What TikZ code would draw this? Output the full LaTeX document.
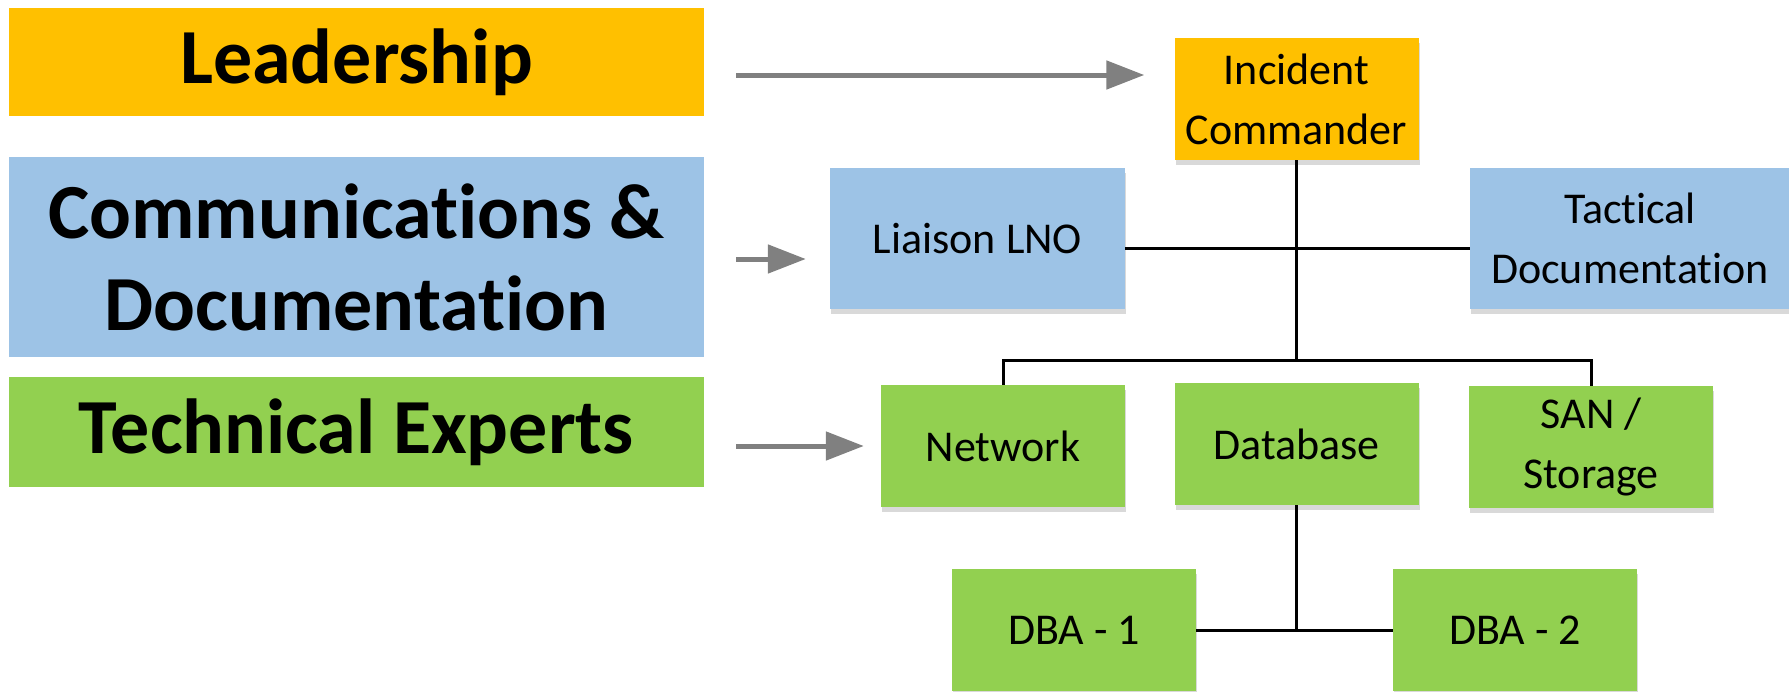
\documentclass[tikz,border=0pt]{standalone}
\usepackage{fontspec}
\setmainfont{Carlito}[RawFeature={-liga}]
\usepackage{tikz}
\usetikzlibrary{arrows.meta,shadows,positioning}
\definecolor{leadorange}{HTML}{FFC000}
\definecolor{commblue}{HTML}{9DC3E6}
\definecolor{techgreen}{HTML}{92D050}
\definecolor{arrgray}{HTML}{808080}

\begin{document}
\begin{tikzpicture}[x=1pt,y=-1pt,
  band/.style={rectangle,minimum width=695pt,align=center,inner sep=0pt,font=\fontsize{78}{92}\selectfont\bfseries},
  k/.style={rectangle,minimum width=244pt,minimum height=122pt,align=center,inner sep=0pt,font=\fontsize{44}{60}\selectfont,drop shadow={shadow xshift=1pt,shadow yshift=-5pt,opacity=.3}},
  arr/.style={draw=arrgray,line width=5pt,-{Triangle[length=38pt,width=28pt]}},
  ln/.style={draw=black,line width=3pt}]
  \useasboundingbox (0,0) rectangle (1789,691);

  \node[band,fill=leadorange,minimum height=108pt] (leadership) at (356.5,62) {Leadership};
  \node[band,fill=commblue,minimum height=200pt] (commdoc) at (356.5,257) {Communications \&\\Documentation};
  \node[band,fill=techgreen,minimum height=110pt] (techexp) at (356.5,432) {Technical Experts};

  \node[k,fill=leadorange] (ic) at (1296.5,99) {Incident\\Commander};
  \node[k,fill=commblue,minimum width=295pt,minimum height=141pt] (lno) at (977.5,238.5) {Liaison LNO};
  \node[k,fill=commblue,minimum width=320pt,minimum height=141pt] (tac) at (1630,238.5) {Tactical\\Documentation};
  \node[k,fill=techgreen] (net) at (1003,446) {Network};
  \node[k,fill=techgreen] (db) at (1296.5,444) {Database};
  \node[k,fill=techgreen] (san) at (1591,447) {SAN /\\Storage};
  \node[k,fill=techgreen] (dba1) at (1074,630) {DBA - 1};
  \node[k,fill=techgreen] (dba2) at (1515,630) {DBA - 2};

  \coordinate (a1) at (736,75);
  \coordinate (a2) at (736,259);
  \coordinate (a3) at (736,446);
  \draw[arr,shorten >=30pt] (a1) -- (a1 -| ic.west);
  \draw[arr,shorten >=24pt] (a2) -- (a2 -| lno.west);
  \draw[arr,shorten >=17pt] (a3) -- (a3 -| net.west);

  \coordinate (bus) at (1296.5,360);
  \draw[ln] (ic.south) -- (bus);
  \draw[ln] ([yshift=-10pt]lno.east) -- ([yshift=-10pt]tac.west);
  \draw[ln] (net.north) |- (bus) -| (san.north);
  \draw[ln] (db.south) -- (db.south |- dba1.east);
  \draw[ln] (dba1.east) -- (dba2.west);
\end{tikzpicture}
\end{document}
